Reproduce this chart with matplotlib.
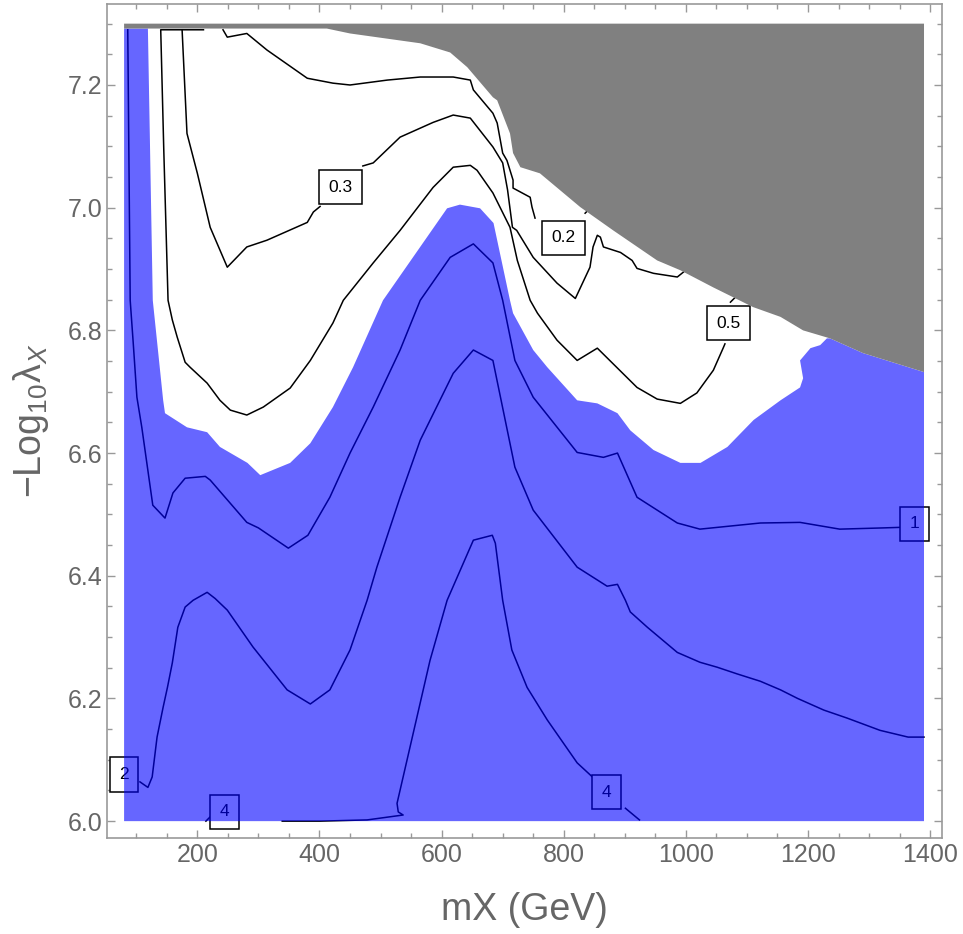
import matplotlib
matplotlib.use("Agg")
import matplotlib.pyplot as plt
from matplotlib.ticker import MultipleLocator

plt.rcParams['font.family'] = ['Liberation Sans', 'DejaVu Sans']
plt.rcParams['mathtext.fontset'] = 'custom'
plt.rcParams['mathtext.rm'] = 'Liberation Sans'
plt.rcParams['mathtext.it'] = 'Liberation Sans:italic'

# data range of the scan
x_range = [80, 1390]
y_range = [6.0, 7.3]
gray_strip_low = 7.292

# boundary of the excluded (gray) region, left to right
gray_x = [412, 450, 565, 614, 642, 684, 691, 712, 717, 729, 761, 827, 881, 953, 991,
          1045, 1110, 1155, 1192, 1236, 1290, 1390]
gray_y = [7.292, 7.284, 7.268, 7.253, 7.229, 7.180, 7.175, 7.121, 7.089, 7.066, 7.056,
          7.001, 6.963, 6.914, 6.898, 6.870, 6.838, 6.822, 6.800, 6.787, 6.763, 6.732]

# boundary of the white (unshaded) region, from top-left around to the gray edge
white_x = [119, 127, 144, 147, 183, 216, 237, 282, 303, 352, 385, 422, 455, 504, 609,
           630, 663, 685, 712, 717, 750, 773, 822, 855, 888, 909, 947, 991, 1024, 1068,
           1111, 1155, 1187, 1192, 1187, 1204, 1220, 1231]
white_y = [7.292, 6.849, 6.686, 6.665, 6.642, 6.634, 6.610, 6.584, 6.564, 6.584, 6.616,
           6.675, 6.740, 6.849, 6.999, 7.005, 6.999, 6.975, 6.849, 6.828, 6.768, 6.740,
           6.686, 6.681, 6.665, 6.637, 6.605, 6.584, 6.584, 6.610, 6.654, 6.686, 6.707,
           6.722, 6.751, 6.771, 6.776, 6.787]

# contour 0.5
c05_x = [210, 140, 145, 152, 159, 167, 180, 188, 216, 237, 254, 281, 308, 352, 385, 422,
         439, 488, 532, 586, 619, 647, 658, 684, 712, 724, 745, 757, 789, 822, 855, 920,
         953, 991, 1018, 1045, 1061, 1064]
c05_y = [7.290, 7.290, 7.094, 6.849, 6.817, 6.789, 6.748, 6.740, 6.714, 6.686, 6.670,
         6.662, 6.675, 6.706, 6.751, 6.812, 6.849, 6.910, 6.963, 7.033, 7.066, 7.069,
         7.061, 7.024, 6.968, 6.914, 6.849, 6.828, 6.784, 6.751, 6.771, 6.707, 6.688,
         6.681, 6.698, 6.735, 6.771, 6.778]
c05b_x = [1073, 1081]
c05b_y = [6.846, 6.854]

# contour 0.3
c03_x = [175, 183, 200, 221, 249, 281, 314, 380, 390, 401]
c03_y = [7.290, 7.121, 7.056, 6.968, 6.903, 6.936, 6.947, 6.976, 6.993, 7.002]
c03b_x = [471, 488, 532, 586, 619, 647, 684, 700, 708, 716, 723, 750, 789, 819, 843,
          848, 855, 860, 865, 893, 912, 920, 947, 986, 996]
c03b_y = [7.068, 7.073, 7.115, 7.139, 7.151, 7.146, 7.099, 7.073, 7.029, 6.968, 6.963,
          6.919, 6.877, 6.852, 6.903, 6.936, 6.955, 6.952, 6.936, 6.927, 6.914, 6.901,
          6.893, 6.887, 6.895]

# contour 0.2
c02_x = [242, 249, 281, 314, 380, 422, 450, 511, 565, 619, 647, 652, 684, 691, 700, 707,
         717, 717, 745, 748, 753]
c02_y = [7.290, 7.278, 7.284, 7.257, 7.211, 7.203, 7.200, 7.208, 7.213, 7.213, 7.208,
         7.192, 7.154, 7.138, 7.089, 7.077, 7.045, 7.032, 7.017, 7.001, 6.983]
c02b_x = [835, 840]
c02b_y = [6.991, 6.996]

# contour 1
c1_x = [86, 90, 95, 101, 109, 127, 147, 160, 180, 213, 221, 281, 300, 349, 381, 417,
        450, 488, 532, 565, 614, 652, 684, 700, 720, 750, 822, 865, 888, 920, 986, 1023,
        1122, 1187, 1252, 1323, 1354]
c1_y = [7.290, 6.849, 6.779, 6.691, 6.642, 6.515, 6.494, 6.535, 6.559, 6.562, 6.556,
        6.487, 6.478, 6.445, 6.466, 6.528, 6.600, 6.675, 6.768, 6.849, 6.919, 6.941,
        6.910, 6.849, 6.751, 6.691, 6.601, 6.593, 6.600, 6.528, 6.486, 6.476, 6.486,
        6.487, 6.476, 6.478, 6.479]

# contour 2
c2_x = [106, 119, 126, 134, 144, 151, 159, 168, 180, 193, 216, 229, 249, 291, 347, 385,
        417, 450, 478, 494, 532, 565, 619, 652, 684, 720, 750, 822, 871, 888, 901, 909,
        937, 986, 1023, 1051, 1084, 1122, 1155, 1183, 1226, 1264, 1318, 1364, 1390]
c2_y = [6.064, 6.055, 6.072, 6.137, 6.186, 6.218, 6.258, 6.316, 6.349, 6.360, 6.373,
        6.363, 6.344, 6.284, 6.214, 6.191, 6.214, 6.279, 6.360, 6.414, 6.528, 6.621,
        6.730, 6.768, 6.751, 6.577, 6.507, 6.414, 6.383, 6.386, 6.360, 6.341, 6.316,
        6.275, 6.259, 6.251, 6.240, 6.228, 6.214, 6.200, 6.181, 6.168, 6.148, 6.137,
        6.137]

# contour 4
c4_x = [339, 401, 478, 537, 529, 527, 581, 609, 652, 683, 688, 700, 715, 740, 773, 822, 847]
c4_y = [6.000, 6.000, 6.002, 6.010, 6.015, 6.029, 6.262, 6.360, 6.458, 6.466, 6.453,
        6.360, 6.279, 6.218, 6.165, 6.095, 6.072]
c4b_x = [901, 924]
c4b_y = [6.021, 6.002]
c4c_x = [214, 222]
c4c_y = [6.000, 6.008]

# contour labels: text, x, y
lab_text = ['0.3', '0.2', '0.5', '1', '2', '4', '4']
lab_x = [434, 800, 1070, 1375, 80, 870, 245]
lab_y = [7.033, 6.951, 6.812, 6.485, 6.076, 6.047, 6.015]

fig = plt.figure(figsize=(9.63, 9.34), dpi=100)
ax = fig.add_axes([0.1111, 0.1031, 0.8668, 0.8926])

# gray excluded region
gx = [x_range[0], x_range[1]] + gray_x[::-1] + [x_range[0]]
gy = [y_range[1], y_range[1]] + gray_y[::-1] + [gray_strip_low]
ax.fill(gx, gy, color='#808080', lw=0, zorder=5)

# blue region (semi transparent so lines beneath turn navy)
k = gray_x.index(1236)
bx = [x_range[0], x_range[1]] + gray_x[k:][::-1] + white_x[::-1] + [x_range[0]]
by = [y_range[0], y_range[0]] + gray_y[k:][::-1] + white_y[::-1] + [gray_strip_low]
ax.fill(bx, by, color=(0, 0, 1), alpha=0.6, lw=0, zorder=4)

lines = [(c05_x, c05_y), (c05b_x, c05b_y), (c03_x, c03_y), (c03b_x, c03b_y),
         (c02_x, c02_y), (c02b_x, c02b_y), (c1_x, c1_y), (c2_x, c2_y),
         (c4_x, c4_y), (c4b_x, c4b_y), (c4c_x, c4c_y)]
for lx, ly in lines:
    ax.plot(lx, ly, color='black', lw=1.1, zorder=2)

for t, x, y in zip(lab_text, lab_x, lab_y):
    ax.text(x, y, t, fontsize=12.5, ha='center', va='center', zorder=3,
            bbox=dict(boxstyle='square,pad=0.55', fc='white', ec='black', lw=1.1))

ax.set_xlim(52, 1419)
ax.set_ylim(5.973, 7.332)
ax.xaxis.set_major_locator(MultipleLocator(200))
ax.xaxis.set_minor_locator(MultipleLocator(50))
ax.yaxis.set_major_locator(MultipleLocator(0.2))
ax.yaxis.set_minor_locator(MultipleLocator(0.05))
ax.yaxis.set_major_formatter(matplotlib.ticker.FormatStrFormatter('%.1f'))

gcol = '#999999'
for s in ax.spines.values():
    s.set_color(gcol)
    s.set_linewidth(1.2)
ax.tick_params(which='both', direction='in', top=True, right=True, color=gcol,
               labelcolor='#666666', labelsize=18, width=1)
ax.tick_params(which='major', length=6)
ax.tick_params(which='minor', length=3.5)

ax.set_xlabel('mX (GeV)', fontsize=27, color='#666666', labelpad=18)
ax.set_ylabel(r'$-\mathrm{Log}_{10}\mathrm{\lambda}_X$', fontsize=27, color='#666666',
              labelpad=12)

fig.savefig('out.png', dpi=100)
